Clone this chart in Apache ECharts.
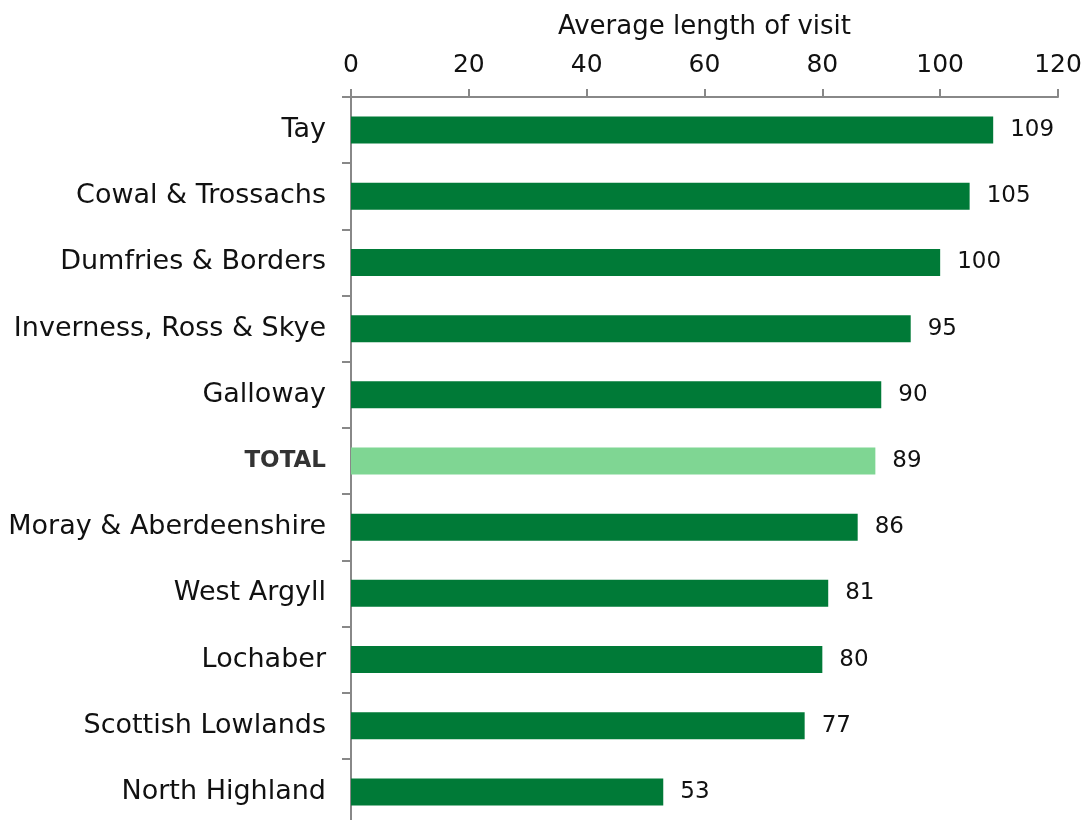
<!DOCTYPE html>
<html>
<head>
<meta charset="utf-8">
<script src="https://cdn.jsdelivr.net/npm/echarts@6/dist/echarts.min.js"></script>
<style>html,body{margin:0;padding:0;background:#fff;overflow:hidden}#c{width:1090px;height:820px}</style>
</head>
<body>
<div id="c"></div>
<script>
var categories = ["Tay","Cowal & Trossachs","Dumfries & Borders","Inverness, Ross & Skye","Galloway","TOTAL","Moray & Aberdeenshire","West Argyll","Lochaber","Scottish Lowlands","North Highland"];
var values = [109,105,100,95,90,89,86,81,80,77,53];
var highlight = "TOTAL";
var axisTitle = "Average length of visit";
var xMin = 0, xMax = 120, xStep = 20;

var chart = echarts.init(document.getElementById('c'), null, {renderer:'canvas'});
var font = "DejaVu Sans";
chart.setOption({
  animation:false,
  backgroundColor:'#fff',
  grid:{left:351, right:32, top:97, height:728, containLabel:false, outerBoundsMode:'none'},
  xAxis:{
    type:'value', position:'top', min:xMin, max:xMax, interval:xStep,
    name:axisTitle, nameLocation:'middle', nameGap:57,
    nameTextStyle:{fontFamily:font, fontSize:26, color:'#111'},
    axisLine:{show:true, lineStyle:{color:'#888', width:2}},
    axisTick:{show:true, length:8, inside:false, lineStyle:{color:'#888', width:2}},
    axisLabel:{fontFamily:font, fontSize:25, color:'#111', margin:19},
    splitLine:{show:false}
  },
  yAxis:{
    type:'category', data:categories, inverse:true,
    axisLine:{show:true, lineStyle:{color:'#888', width:2}},
    axisTick:{show:true, length:9, lineStyle:{color:'#888', width:2}},
    axisLabel:{
      margin:25,
      fontFamily:font, fontSize:27, color:'#111',
      formatter:function(v){ return v===highlight ? '{b|'+v+'}' : v; },
      rich:{b:{fontFamily:font, fontSize:23, fontWeight:'bold', color:'#333'}}
    }
  },
  series:[{
    type:'bar', barWidth:27,
    data:values.map(function(v,i){
      return {value:v, itemStyle:{color: categories[i]===highlight ? '#7FD693' : '#007A37'}};
    }),
    label:{show:true, position:'right', distance:17, fontFamily:font, fontSize:23, color:'#111'}
  }]
});
</script>
</body>
</html>
